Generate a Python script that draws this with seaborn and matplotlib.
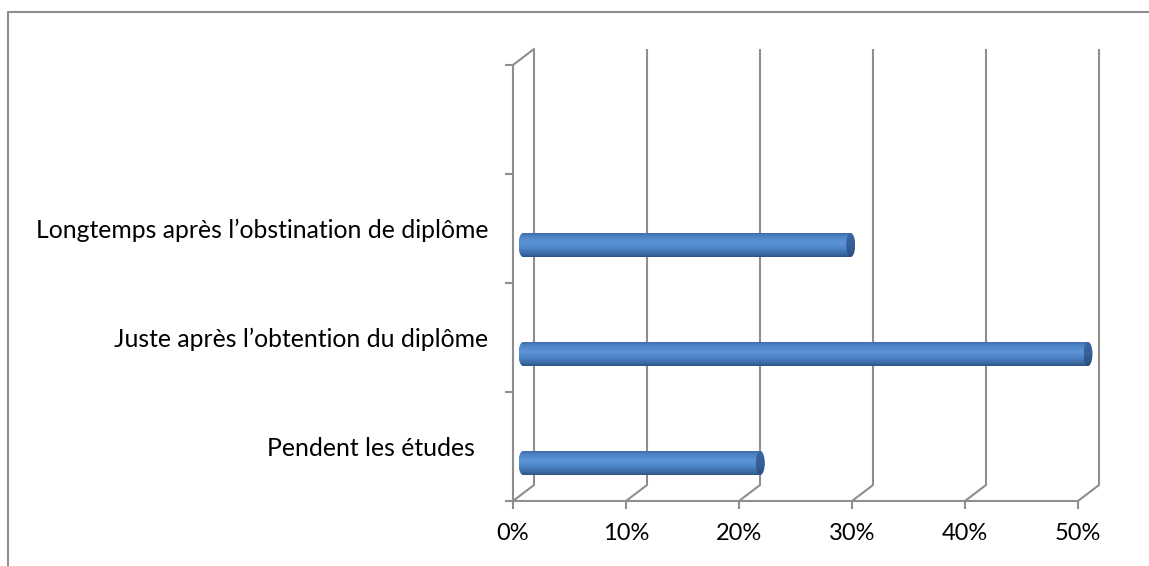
import numpy as np
import pandas as pd
import matplotlib
matplotlib.use("Agg")
import matplotlib.pyplot as plt
import seaborn as sns
from matplotlib.transforms import ScaledTranslation
from matplotlib.patches import Ellipse, ConnectionPatch
from matplotlib.lines import Line2D
from matplotlib.colors import LinearSegmentedColormap

# ---- data ----
categories = ["Longtemps après l’obstination de diplôme",
              "Juste après l’obtention du diplôme",
              "Pendent les études  "]
values = [29, 50, 21]          # percent
xticks = [0, 10, 20, 30, 40, 50]
xtick_labels = ["0%", "10%", "20%", "30%", "40%", "50%"]

sns.set_theme(style="white")
plt.rcParams["font.family"] = ["Lato", "DejaVu Sans"]

W, H = 1149, 566
fig = plt.figure(figsize=(W / 100, H / 100), dpi=100)
fig.patch.set_facecolor("white")

# front plane of the 3D box
ax = fig.add_axes([513 / W, (H - 501) / H, (1078 - 513) / W, (501 - 65) / H])
ax.set_facecolor("none")

df = pd.DataFrame({"cat": categories, "val": values})
sns.barplot(data=df, x="val", y="cat", orient="h", color="#4F81BD",
            width=0.22, ax=ax, zorder=3)
bars = list(ax.patches)

ax.set_xlim(0, 50)
ax.set_ylim(2.5, -1.5)
ax.set_xlabel("")
ax.set_ylabel("")

grid_c = "#8e8e8e"
lw = 1.5

# spines (front edges)
for s in ["top", "right"]:
    ax.spines[s].set_visible(False)
for s in ["left", "bottom"]:
    ax.spines[s].set_color(grid_c)
    ax.spines[s].set_linewidth(lw)

ax.set_xticks(xticks)
ax.set_xticklabels(xtick_labels)
ax.tick_params(axis="x", length=5.5, width=lw, color=grid_c, pad=10,
               labelsize=17, labelcolor="black", bottom=True)
ax.set_yticks([-1.5, -0.5, 0.5, 1.5, 2.5], minor=True)
ax.tick_params(axis="y", which="minor", length=5.5, width=lw, color=grid_c, left=True)
ax.tick_params(axis="y", which="major", length=0, pad=18, labelsize=17.8,
               labelcolor="black")

# back wall (depth offset)
back = ax.transData + ScaledTranslation(21 / 100, 16 / 100, fig.dpi_scale_trans)
y_lo, y_hi = 2.5, -1.5
for t in xticks:
    ax.plot([t, t], [y_lo, y_hi], transform=back, color=grid_c, lw=lw,
            clip_on=False, zorder=0.5, solid_capstyle="butt")
    cp = ConnectionPatch(xyA=(t, y_lo), coordsA=ax.transData,
                         xyB=(t, y_lo), coordsB=back,
                         color=grid_c, lw=lw, zorder=0.5)
    ax.add_artist(cp)
cp = ConnectionPatch(xyA=(0, y_hi), coordsA=ax.transData,
                     xyB=(0, y_hi), coordsB=back, color=grid_c, lw=lw, zorder=0.5)
ax.add_artist(cp)

# cylinder shading
body_cmap = LinearSegmentedColormap.from_list(
    "body", [(0.0, "#3d6dab"), (0.12, "#4c82c3"), (0.4, "#5d95d8"),
             (0.65, "#4d83c5"), (0.88, "#3b69a2"), (1.0, "#2e5487")])
cap_cmap = LinearSegmentedColormap.from_list(
    "cap", [(0.0, "#3a65a0"), (0.5, "#36609a"), (1.0, "#2a4d7e")])
grad = np.linspace(0, 1, 100).reshape(-1, 1)

bar_tr = ax.transData + ScaledTranslation(10 / 100, -16.5 / 100, fig.dpi_scale_trans)
cap_w = 9 / 565 * 50

for p in bars:
    x, y, w, h = p.get_x(), p.get_y(), p.get_width(), p.get_height()
    p.set_transform(bar_tr)
    p.set_facecolor("none")
    p.set_edgecolor("none")
    p.set_clip_on(False)
    yc = y + h / 2
    im = ax.imshow(grad, extent=(x, x + w, y + h, y), aspect="auto",
                   cmap=body_cmap, interpolation="bilinear", zorder=3)
    im.set_transform(bar_tr)
    im.set_clip_path(p)
    # left rounded end
    lc = Ellipse((x, yc), cap_w, h, transform=bar_tr, facecolor="none",
                 edgecolor="none", clip_on=False)
    ax.add_patch(lc)
    im2 = ax.imshow(grad, extent=(x - cap_w / 2, x + cap_w / 2, y + h, y),
                    aspect="auto", cmap=body_cmap, interpolation="bilinear",
                    zorder=3)
    im2.set_transform(bar_tr)
    im2.set_clip_path(lc)
    im2.set_clip_box(fig.bbox)
    # right end cap
    rc = Ellipse((x + w, yc), cap_w, h, transform=bar_tr, facecolor="none",
                 edgecolor="none", clip_on=False)
    ax.add_patch(rc)
    im3 = ax.imshow(grad, extent=(x + w - cap_w / 2, x + w + cap_w / 2, y + h, y),
                    aspect="auto", cmap=cap_cmap, interpolation="bilinear",
                    zorder=4)
    im3.set_transform(bar_tr)
    im3.set_clip_path(rc)
    im3.set_clip_box(fig.bbox)

ax.set_xlim(0, 50)
ax.set_ylim(2.5, -1.5)

# outer chart border (top and left visible)
fig.add_artist(Line2D([8 / W, 1], [1 - 12 / H, 1 - 12 / H],
                      transform=fig.transFigure, color=grid_c, lw=1.5))
fig.add_artist(Line2D([8 / W, 8 / W], [0, 1 - 12 / H],
                      transform=fig.transFigure, color=grid_c, lw=1.5))

fig.savefig("out.png", dpi=100)
